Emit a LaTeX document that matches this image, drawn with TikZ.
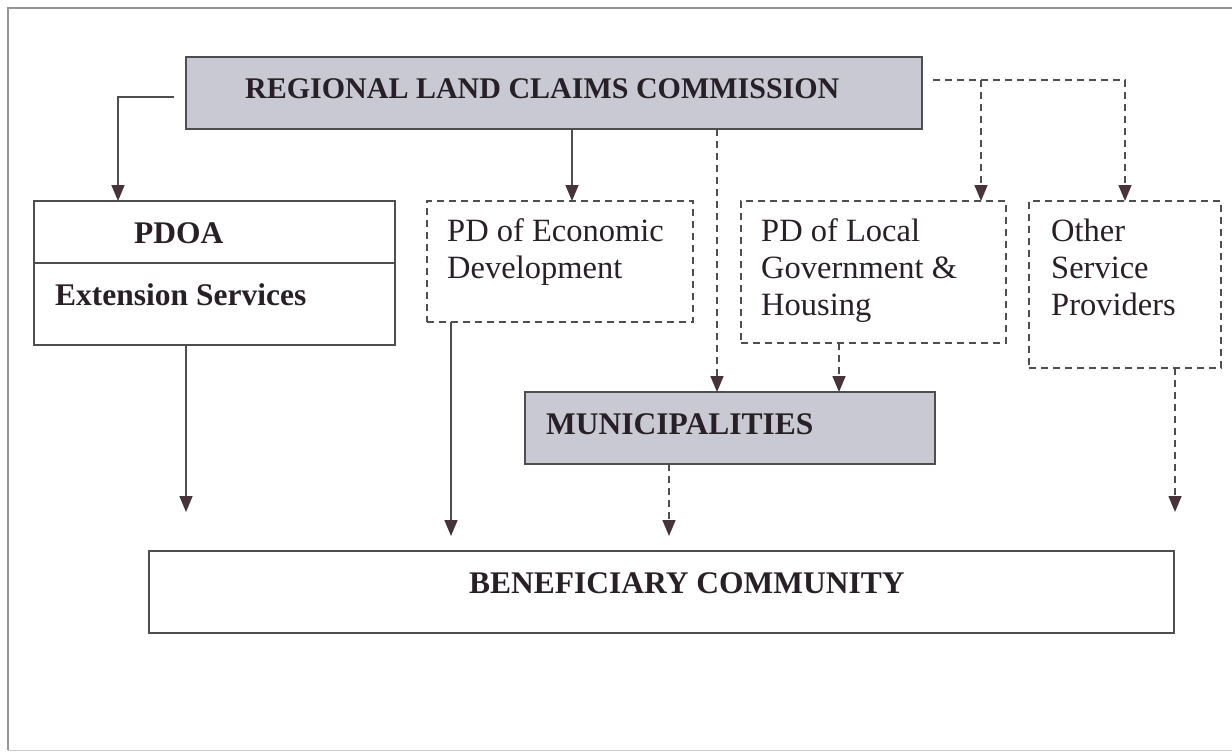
\documentclass[tikz,border=0pt]{standalone}
\usepackage{fontspec}
\setmainfont{Liberation Serif}
\usetikzlibrary{arrows.meta,calc}
\definecolor{linec}{RGB}{78,78,80}
\definecolor{arrc}{RGB}{70,52,58}
\definecolor{boxfill}{RGB}{201,201,211}
\definecolor{txt}{RGB}{40,32,38}
\definecolor{framec}{RGB}{150,150,150}
\begin{document}
\begin{tikzpicture}[x=1pt,y=-1pt,
  box/.style={draw=linec, line width=1.8pt, inner sep=0pt, outer sep=0pt, anchor=north west},
  dbox/.style={box, dash pattern=on 7pt off 5pt, line width=1.6pt},
  shaded/.style={box, fill=boxfill},
  conn/.style={draw=linec, line width=1.6pt, -{Triangle[length=16pt,width=13pt,color=arrc]}},
  dconn/.style={conn, dash pattern=on 7pt off 5pt},
  lbl/.style={anchor=base west, inner sep=0pt, text=txt, font=\fontsize{32.5}{37}\selectfont},
  blbl/.style={anchor=base west, inner sep=0pt, text=txt, font=\fontsize{31.5}{37}\selectfont\bfseries}]
\useasboundingbox (0,0) rectangle (1232,753);
% outer frame
\draw[framec, line width=1.5pt] (1232,8) -- (8,8) -- (8,750);
\draw[framec!50, line width=1pt] (8,750) -- (1232,750);

% boxes
\node[shaded, minimum width=736pt, minimum height=72pt] (rlcc) at (186,57) {};
\node[box, minimum width=361pt, minimum height=144pt] (pdoa) at (34,201) {};
\draw[linec, line width=1.8pt] ($(pdoa.north west)+(0,62)$) -- ($(pdoa.north east)+(0,62)$);
\node[dbox, minimum width=266pt, minimum height=121pt] (econ) at (427,201) {};
\node[dbox, minimum width=265pt, minimum height=142pt] (local) at (741,201) {};
\node[dbox, minimum width=192pt, minimum height=167pt] (other) at (1029,201) {};
\node[shaded, minimum width=410pt, minimum height=72pt] (munic) at (525,392) {};
\node[box, minimum width=1025pt, minimum height=82pt] (benef) at (149,551) {};

% texts
\node[blbl, font=\fontsize{30}{36}\selectfont\bfseries] (rlcct) at (245,98) {REGIONAL LAND CLAIMS COMMISSION};
\node[blbl] (pdoat) at (134,243) {PDOA};
\node[blbl] (extt) at (55,305) {Extension Services};
\node[lbl] (econa) at (447,241) {PD of Economic};
\node[lbl] (econb) at (447,278) {Development};
\node[lbl] (locala) at (761,241) {PD of Local};
\node[lbl] (localb) at (761,278) {Government \&};
\node[lbl] (localc) at (761,315) {Housing};
\node[lbl] (othera) at (1051,241) {Other};
\node[lbl] (otherb) at (1051,278) {Service};
\node[lbl] (otherc) at (1051,315) {Providers};
\node[blbl] (munict) at (546,434) {MUNICIPALITIES};
\node[blbl] (beneft) at (469,593) {BENEFICIARY COMMUNITY};

% connectors
\coordinate (c1) at ($(rlcc.west)+(-12,4)$);
\draw[conn] (c1) -| (118,0 |- pdoa.north);
\draw[conn] (572,0 |- rlcc.south) -- (572,0 |- econ.north);
\draw[dconn] (717,0 |- rlcc.south) -- (717,0 |- munic.north);
\coordinate (c2) at ($(rlcc.east)+(11,-13)$);
\draw[dconn] (c2) -| (1125,0 |- other.north);
\draw[dconn] (981,0 |- c2) -- (981,0 |- local.north);
\coordinate (e1) at (186,512);
\draw[conn] (186,0 |- pdoa.south) -- (e1);
\coordinate (e2) at (451,536);
\draw[conn] (451,0 |- econ.south) -- (e2);
\draw[dconn] (839,0 |- local.south) -- (839,0 |- munic.north);
\coordinate (e3) at (669,536);
\draw[dconn] (669,0 |- munic.south) -- (e3);
\coordinate (e4) at (1175,512);
\draw[dconn] (1175,0 |- other.south) -- (e4);
\end{tikzpicture}
\end{document}
